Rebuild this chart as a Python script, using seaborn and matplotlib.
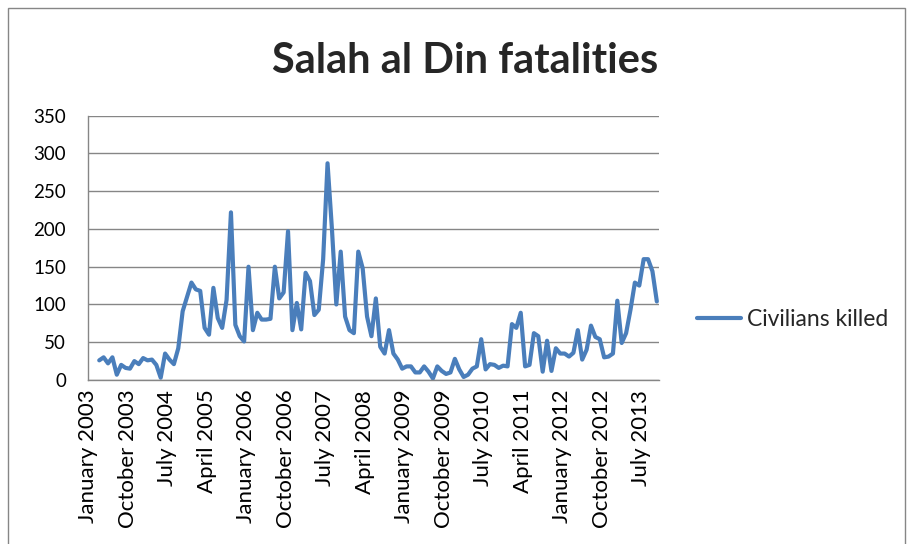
import matplotlib
matplotlib.use('Agg')
import matplotlib.pyplot as plt
import seaborn as sns
import pandas as pd
from matplotlib.patches import Rectangle

# monthly civilian deaths, March 2003 .. October 2013
start_month = '2003-03'
civilians_killed = [
    26, 30, 22, 30, 7, 20, 16, 15, 25, 21,          # 2003 (Mar-Dec)
    29, 26, 27, 20, 3, 35, 27, 21, 42, 91, 110, 129,  # 2004
    120, 118, 69, 60, 122, 82, 69, 106, 222, 73, 58, 51,  # 2005
    150, 66, 89, 80, 80, 81, 150, 108, 116, 197, 66, 102,  # 2006
    67, 142, 131, 86, 93, 160, 287, 200, 100, 170, 84, 66,  # 2007
    62, 170, 148, 84, 58, 108, 44, 35, 66, 35, 27, 15,  # 2008
    18, 18, 10, 10, 18, 11, 2, 18, 12, 8, 10, 28,  # 2009
    14, 4, 7, 15, 18, 54, 14, 21, 20, 16, 19, 18,  # 2010
    74, 69, 89, 18, 20, 62, 58, 11, 52, 12, 42, 35,  # 2011
    35, 31, 36, 66, 27, 40, 72, 57, 54, 30, 31, 35,  # 2012
    105, 49, 62, 93, 129, 125, 160, 160, 144, 104,  # 2013 (Jan-Oct)
]
tick_dates = ['2003-01', '2003-10', '2004-07', '2005-04', '2006-01',
              '2006-10', '2007-07', '2008-04', '2009-01', '2009-10',
              '2010-07', '2011-04', '2012-01', '2012-10', '2013-07']
tick_labels = ['January 2003', 'October 2003', 'July 2004', 'April 2005',
               'January 2006', 'October 2006', 'July 2007', 'April 2008',
               'January 2009', 'October 2009', 'July 2010', 'April 2011',
               'January 2012', 'October 2012', 'July 2013']
yticks = [0, 50, 100, 150, 200, 250, 300, 350]

base = pd.Period('2003-01', freq='M')
months = pd.period_range(start_month, periods=len(civilians_killed), freq='M')
df = pd.DataFrame({
    'month': [(m - base).n + 0.5 for m in months],
    'Civilians killed': civilians_killed,
})
tick_pos = [(pd.Period(d, freq='M') - base).n for d in tick_dates]

sns.set_style('white')
plt.rcParams['font.family'] = ['Lato', 'DejaVu Sans']

fig = plt.figure(figsize=(9.08, 5.44), dpi=100)
ax = fig.add_axes([0.0972, 0.3015, 0.6286, 0.4858])

sns.lineplot(data=df, x='month', y='Civilians killed', ax=ax,
             color='#4A7EBB', linewidth=3.0, label='Civilians killed')

ax.set_xlim(0, (months[-1] - base).n + 1)
ax.set_ylim(0, 350)
ax.set_yticks(yticks)
ax.set_xticks(tick_pos)
ax.set_xticklabels(tick_labels, rotation=90)
ax.tick_params(axis='x', labelsize=16, colors='#000000', length=5,
               width=1, direction='out', pad=2)
ax.tick_params(axis='y', labelsize=13.5, colors='#000000', length=6,
               width=1, direction='out', pad=10)
ax.tick_params(axis='both', color='#868686')
ax.grid(axis='y', color='#868686', linewidth=1)
ax.set_xlabel('')
ax.set_ylabel('')
for side in ['top', 'right']:
    ax.spines[side].set_visible(False)
for side in ['left', 'bottom']:
    ax.spines[side].set_color('#868686')
    ax.spines[side].set_linewidth(1)

fig.text(0.512, 0.888, 'Salah al Din fatalities', ha='center', va='center',
         fontsize=30, fontweight='bold')

leg = ax.legend(loc='center left', bbox_to_anchor=(0.7575, 0.412),
                bbox_transform=fig.transFigure, frameon=False, fontsize=16.5,
                handlelength=1.9, handletextpad=0.3, borderaxespad=0)

# chart area border
fig.patches.append(Rectangle((8 / 908, -0.01), 897 / 908, 1 - 8 / 544 + 0.01,
                             transform=fig.transFigure, fill=False,
                             edgecolor='#868686', linewidth=1))

plt.savefig('out.png', dpi=100)
plt.close()
